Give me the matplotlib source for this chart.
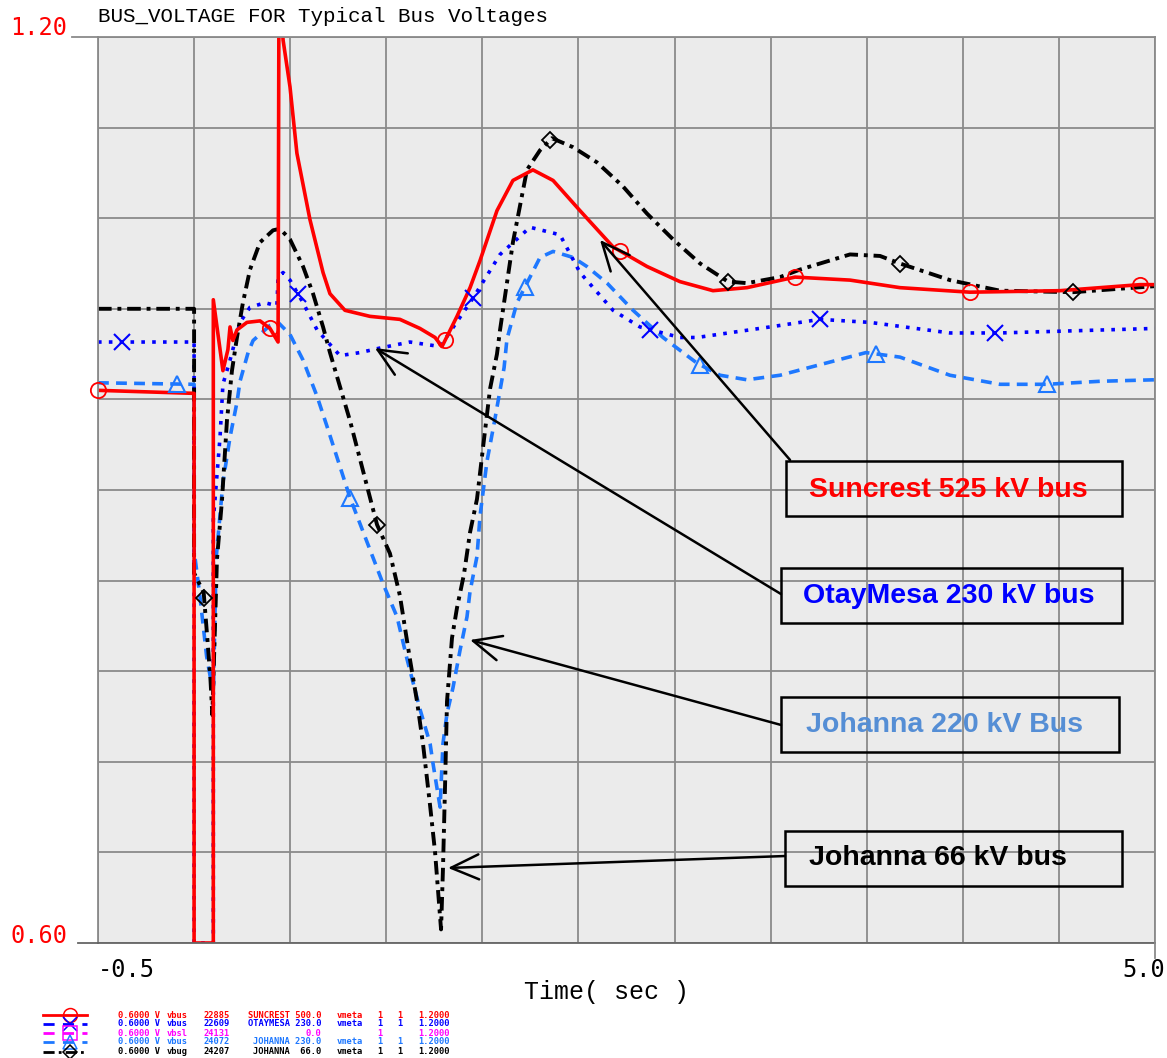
import numpy as np
import matplotlib
matplotlib.use("Agg")
import matplotlib.pyplot as plt
from matplotlib.patches import Rectangle
from matplotlib.lines import Line2D

# ---- data (time in s, voltage in pu) ----
t_suncrest = [-0.5, 0.0, 0.0, 0.1, 0.1, 0.15, 0.176, 0.187, 0.202, 0.223, 0.275, 0.343,
              0.395, 0.437, 0.442, 0.463, 0.499, 0.535, 0.603, 0.671, 0.707, 0.785, 0.915,
              1.071, 1.175, 1.254, 1.290, 1.368, 1.436, 1.488, 1.576, 1.659, 1.763, 1.868,
              2.008, 2.180, 2.357, 2.528, 2.700, 2.877, 3.127, 3.413, 3.673, 4.037, 4.506,
              4.922, 5.0]
v_suncrest = [0.966, 0.964, 0.6, 0.6, 1.026, 0.979, 0.993, 1.008, 0.999, 1.006, 1.011, 1.012,
              1.007, 0.998, 1.25, 1.198, 1.167, 1.123, 1.079, 1.044, 1.030, 1.019, 1.015,
              1.013, 1.007, 1.001, 0.995, 1.015, 1.034, 1.052, 1.085, 1.105, 1.112, 1.105,
              1.085, 1.061, 1.048, 1.038, 1.032, 1.034, 1.041, 1.039, 1.034, 1.031, 1.032,
              1.036, 1.036]

t_otay = [-0.5, 0.0, 0.0, 0.1, 0.1, 0.135, 0.150, 0.187, 0.239, 0.291, 0.369, 0.431, 0.437,
          0.463, 0.499, 0.567, 0.640, 0.759, 0.863, 0.967, 1.123, 1.280, 1.451, 1.592, 1.748,
          1.904, 2.008, 2.180, 2.320, 2.528, 2.617, 2.997, 3.257, 3.517, 3.933, 4.193, 5.0]
v_otay = [0.998, 0.998, 0.6, 0.6, 0.88, 0.935, 0.970, 0.986, 1.011, 1.021, 1.024, 1.022, 1.041,
          1.044, 1.039, 1.024, 1.006, 0.989, 0.991, 0.994, 0.998, 0.995, 1.027, 1.056, 1.074,
          1.069, 1.044, 1.019, 1.008, 1.001, 1.001, 1.008, 1.013, 1.011, 1.004, 1.004, 1.007]

t_joh220 = [-0.5, 0.0, 0.0, 0.03, 0.065, 0.1, 0.115, 0.15, 0.187, 0.223, 0.239, 0.281, 0.307,
            0.395, 0.437, 0.499, 0.567, 0.640, 0.692, 0.811, 0.983, 1.056, 1.108, 1.175, 1.228,
            1.243, 1.280, 1.295, 1.316, 1.347, 1.384, 1.420, 1.436, 1.472, 1.488, 1.524, 1.561,
            1.613, 1.628, 1.680, 1.800, 1.868, 1.972, 2.044, 2.149, 2.284, 2.440, 2.617, 2.737,
            2.877, 3.049, 3.257, 3.496, 3.673, 3.933, 4.193, 4.438, 4.714, 5.0]
v_joh220 = [0.971, 0.970, 0.86, 0.83, 0.79, 0.765, 0.855, 0.905, 0.935, 0.958, 0.972, 0.991,
            0.999, 1.009, 1.011, 1.003, 0.986, 0.962, 0.942, 0.895, 0.838, 0.816, 0.788, 0.755,
            0.732, 0.719, 0.690, 0.732, 0.752, 0.769, 0.794, 0.816, 0.833, 0.856, 0.883, 0.919,
            0.944, 0.981, 1.000, 1.024, 1.054, 1.058, 1.054, 1.048, 1.037, 1.019, 1.001, 0.984,
            0.976, 0.973, 0.976, 0.983, 0.991, 0.988, 0.976, 0.970, 0.970, 0.972, 0.973]

t_joh66 = [-0.5, 0.0, 0.0, 0.05, 0.07, 0.085, 0.095, 0.119, 0.145, 0.171, 0.197, 0.223, 0.254,
           0.291, 0.343, 0.411, 0.447, 0.499, 0.567, 0.619, 0.671, 0.707, 0.811, 0.952, 1.019,
           1.071, 1.123, 1.160, 1.191, 1.228, 1.254, 1.285, 1.295, 1.306, 1.316, 1.342, 1.368,
           1.404, 1.436, 1.472, 1.508, 1.540, 1.576, 1.592, 1.659, 1.732, 1.800, 1.862, 1.972,
           2.096, 2.232, 2.357, 2.492, 2.633, 2.778, 2.877, 3.049, 3.153, 3.413, 3.569, 3.673,
           3.933, 4.193, 4.573, 5.0]
v_joh66 = [1.020, 1.020, 0.845, 0.832, 0.80, 0.775, 0.751, 0.854, 0.893, 0.946, 0.979, 1.001,
           1.024, 1.046, 1.064, 1.072, 1.073, 1.066, 1.048, 1.030, 1.008, 0.991, 0.946, 0.877,
           0.858, 0.830, 0.788, 0.760, 0.732, 0.691, 0.660, 0.609, 0.649, 0.705, 0.760, 0.802,
           0.822, 0.844, 0.872, 0.894, 0.933, 0.967, 0.990, 1.006, 1.064, 1.112, 1.125, 1.133,
           1.127, 1.117, 1.101, 1.083, 1.066, 1.050, 1.038, 1.037, 1.041, 1.046, 1.056, 1.055,
           1.050, 1.039, 1.032, 1.031, 1.035]

# marker positions along each trace (s)
mk_suncrest = [-0.5, 0.395, 1.306, 2.216, 3.127, 4.037, 4.922]
mk_otay = [-0.375, 0.541, 1.451, 2.373, 3.257, 4.167]
mk_joh220 = [-0.089, 0.811, 1.722, 2.632, 3.548, 4.438]
mk_joh66 = [0.052, 0.952, 1.852, 2.778, 3.673, 4.573]

# legend table rows at the bottom
leg_colors = ["#ff0000", "#0000ff", "#ff00ff", "#1e78ff", "#000000"]
leg_markers = ["o", "x", "s", "^", "D"]
leg_kind = ["vbus", "vbus", "vbsl", "vbus", "vbug"]
leg_busno = ["22885", "22609", "24131", "24072", "24207"]
leg_name = ["SUNCREST 500.0", "OTAYMESA 230.0", "0.0", "JOHANNA 230.0", "JOHANNA  66.0"]
leg_meta = ["vmeta", "vmeta", "", "vmeta", "vmeta"]
leg_f1 = ["1", "1", "1", "1", "1"]
leg_f2 = ["1", "1", "", "1", "1"]

W, H = 1167, 1058
fig = plt.figure(figsize=(W / 100, H / 100), dpi=100)
fig.patch.set_facecolor("white")
ax = fig.add_axes([98 / W, 1 - 943 / H, (1155 - 98) / W, (943 - 37) / H])
ax.set_facecolor("#ebebeb")
ax.set_xlim(-0.5, 5.0)
ax.set_ylim(0.6, 1.2)
ax.set_xticks(np.arange(-0.5, 5.01, 0.5))
ax.set_yticks(np.arange(0.6, 1.201, 0.06))
ax.tick_params(length=0, labelbottom=False, labelleft=False)
ax.grid(True, color="#8a8a8a", lw=1.3)
ax.set_axisbelow(True)
for s in ax.spines.values():
    s.set_color("#8a8a8a")
    s.set_linewidth(1.3)
ax.spines["bottom"].set_color("#666666")

# traces
ax.plot(t_joh220, v_joh220, color="#1e78ff", lw=2.6, ls=(0, (3, 2)))
ax.plot(t_otay, v_otay, color="#0000ff", lw=2.6, ls=(0, (1, 2)))
ax.plot(t_joh66, v_joh66, color="black", lw=2.8, ls=(0, (3.5, 1.5, 1, 1.5)))
ax.plot(t_suncrest, v_suncrest, color="#ff0000", lw=2.6)

mk_style = dict(ls="none", mfc="none", clip_on=False, zorder=5)
ax.plot(mk_suncrest, np.interp(mk_suncrest, t_suncrest, v_suncrest), marker="o",
        ms=11, mew=1.3, mec="#ff0000", **mk_style)
ax.plot(mk_otay, np.interp(mk_otay, t_otay, v_otay), marker="x",
        ms=12, mew=1.5, mec="#0000ff", **mk_style)
ax.plot(mk_joh220, np.interp(mk_joh220, t_joh220, v_joh220), marker="^",
        ms=12, mew=1.5, mec="#1e78ff", **mk_style)
ax.plot(mk_joh66, np.interp(mk_joh66, t_joh66, v_joh66), marker="D",
        ms=8, mew=1.3, mec="black", **mk_style)

# annotation boxes with arrows
notes = [
    ("Suncrest 525 kV bus", "#ff0000", (3.080, 0.8828, 4.828, 0.9192), (3.923, 0.900),
     (3.101, 0.9199), (2.112, 1.0656)),
    ("OtayMesa 230 kV bus", "#0000ff", (3.054, 0.8119, 4.828, 0.8483), (3.928, 0.8298),
     (3.054, 0.8311), (0.941, 0.9940)),
    ("Johanna 220 kV Bus", "#558ed5", (3.054, 0.7265, 4.813, 0.7629), (3.907, 0.7444),
     (3.054, 0.7444), (1.436, 0.8007)),
    ("Johanna 66 kV bus", "black", (3.075, 0.6377, 4.828, 0.6742), (3.871, 0.6563),
     (3.075, 0.6576), (1.321, 0.6497)),
]
for label, col, box, tpos, tail, tip in notes:
    ax.add_patch(Rectangle((box[0], box[1]), box[2] - box[0], box[3] - box[1],
                           fill=False, ec="black", lw=1.8, zorder=6))
    ax.text(tpos[0], tpos[1], label, color=col, fontsize=20.5, fontweight="bold",
            family="Liberation Sans", ha="center", va="center", zorder=7)
    ax.annotate("", xy=tip, xytext=tail, zorder=6,
                arrowprops=dict(arrowstyle="->,head_length=1.0,head_width=0.45",
                                mutation_scale=20, lw=1.8, color="black",
                                shrinkA=0, shrinkB=0))

# titles and axis labels
fig.text(98 / W, 1 - 17 / H, "BUS_VOLTAGE FOR Typical Bus Voltages", family="Liberation Mono",
         fontsize=15, va="center", ha="left")
fig.text(10 / W, 1 - 28 / H, "1.20", color="#ff0000", family="DejaVu Sans Mono",
         fontsize=17, va="center", ha="left")
fig.text(10 / W, 1 - 936 / H, "0.60", color="#ff0000", family="DejaVu Sans Mono",
         fontsize=17, va="center", ha="left")
fig.text(98 / W, 1 - 970 / H, "-0.5", family="DejaVu Sans Mono", fontsize=17,
         va="center", ha="left")
fig.text(1165 / W, 1 - 970 / H, "5.0", family="DejaVu Sans Mono", fontsize=17,
         va="center", ha="right")
fig.text(607 / W, 1 - 992 / H, "Time( sec )", family="Liberation Mono", fontsize=18,
         va="center", ha="center")

# axis stubs
fig.add_artist(Line2D([72 / W, 98 / W], [1 - 37 / H] * 2, color="#8a8a8a", lw=1.3))
fig.add_artist(Line2D([78 / W, 98 / W], [1 - 943 / H] * 2, color="#666666", lw=1.3))
fig.add_artist(Line2D([1155 / W] * 2, [1 - 943 / H, 1 - 958 / H], color="#8a8a8a", lw=1.3))

# legend table
row_y = [1015, 1024, 1033, 1042, 1052]
leg_ls = ["-", (0, (4, 3)), (0, (4, 3)), (0, (4, 3)), (0, (4, 1.5, 1, 1.5))]
cell = dict(family="DejaVu Sans Mono", fontsize=6.3, fontweight="bold", va="center")
for i in range(5):
    y = 1 - row_y[i] / H
    c = leg_colors[i]
    fig.add_artist(Line2D([43 / W, 87 / W], [y, y], color=c, lw=2, ls=leg_ls[i]))
    fig.add_artist(Line2D([70 / W], [y], color=c, marker=leg_markers[i], mfc="none",
                          mec=c, ms=10 if leg_markers[i] != "D" else 7, mew=1.1, ls="none"))
    fig.text(118 / W, y, "0.6000 V", color=c, ha="left", **cell)
    fig.text(167 / W, y, leg_kind[i], color=c, ha="left", **cell)
    fig.text(203 / W, y, leg_busno[i], color=c, ha="left", **cell)
    fig.text(321 / W, y, leg_name[i], color=c, ha="right", **cell)
    fig.text(337 / W, y, leg_meta[i], color=c, ha="left", **cell)
    fig.text(377 / W, y, leg_f1[i], color=c, ha="left", **cell)
    fig.text(397 / W, y, leg_f2[i], color=c, ha="left", **cell)
    fig.text(450 / W, y, "1.2000", color=c, ha="right", **cell)

fig.savefig("out.png", dpi=100)
